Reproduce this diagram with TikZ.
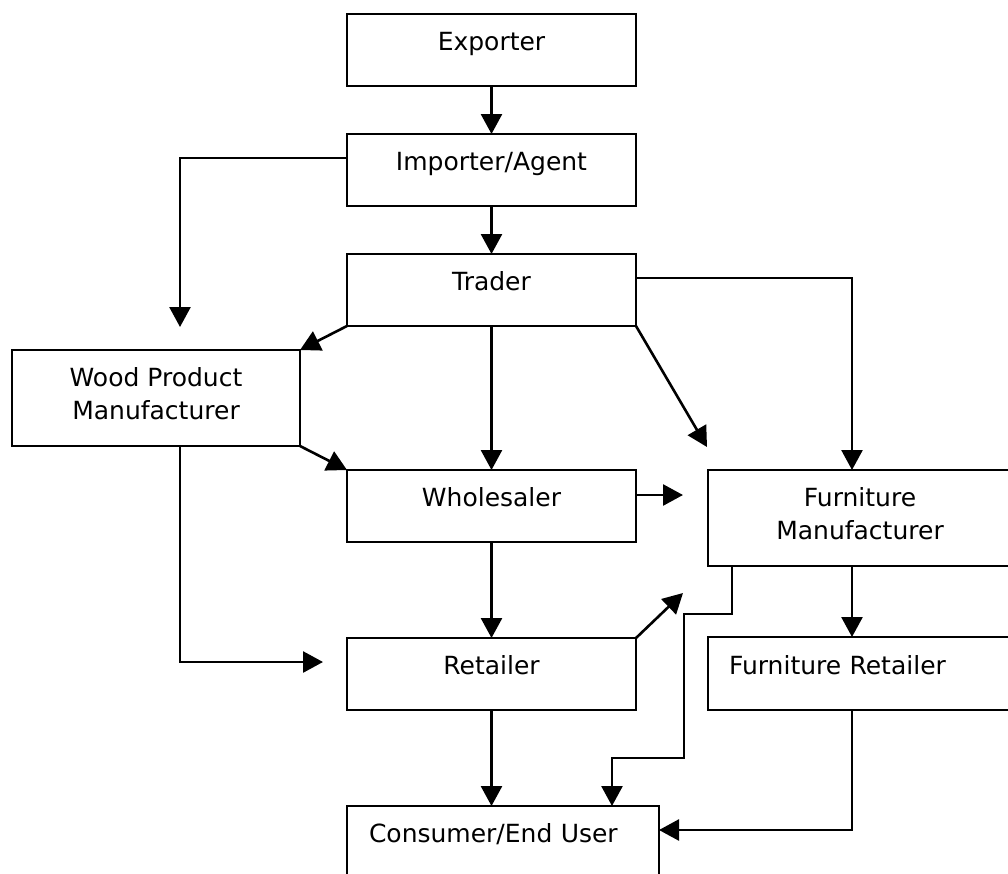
\documentclass[tikz,border=0pt]{standalone}
\usepackage{fontspec}
\setmainfont{DejaVu Sans}
\usepackage{tikz}
\usetikzlibrary{arrows.meta,positioning,calc}

\begin{document}
\begin{tikzpicture}[
  x=1pt, y=-1pt,
  frame/.style={draw, line width=2.6pt, outer sep=0pt, inner sep=0pt, minimum width=289pt, align=center, font=\fontsize{25}{33}\selectfont},
  box/.style={frame, minimum height=72pt, text height=18pt, text depth=17pt},
  tallbox/.style={frame, minimum height=96pt, text depth=10pt},
  arrow/.style={-{Triangle[length=20pt, width=21pt]}, line width=2.6pt}
]
  \useasboundingbox (0,0) rectangle (1008,873);

  \node[box] (exporter) at (491.5,50) {Exporter};
  \node[box, below=48pt of exporter] (importer) {Importer/Agent};
  \node[box, below=48pt of importer] (trader) {Trader};
  \node[box, below=144pt of trader] (wholesaler) {Wholesaler};
  \node[box, below=96pt of wholesaler] (retailer) {Retailer};
  \node[tallbox, minimum width=288pt] (wood) at (156,398) {Wood Product\\Manufacturer};
  \node[tallbox, minimum width=304pt] (furnman) at (860,518) {Furniture\\Manufacturer};
  \node[box, minimum height=73pt, anchor=north west, inner xsep=21pt, text width=283pt, align=left] (furnret) at (708,637) {Furniture Retailer};
  \node[box, anchor=north west, inner xsep=22pt, text width=268pt, align=left] (consumer) at (347,806) {Consumer/End User};

  \coordinate (wpin) at (180,327);
  \coordinate (fmtop) at (707,447);
  \coordinate (fmside) at (683,495);
  \coordinate (fmlow) at (683,593);
  \coordinate (rtin) at (323,662);

  \draw[arrow] (exporter) -- (importer);
  \draw[arrow] ([yshift=12pt]importer.west) -| (wpin);
  \draw[arrow] (importer) -- (trader);
  \draw[arrow] ([yshift=12pt]trader.east) -| ([xshift=144pt]furnman.north west);
  \draw[arrow] (trader.south west) -- (wood.north east);
  \draw[arrow] (trader) -- (wholesaler);
  \draw[arrow] (trader.south east) -- (fmtop);
  \draw[arrow] (wood.south east) -- (wholesaler.north west);
  \draw[arrow] ([xshift=24pt]wood.south) |- (rtin);
  \draw[arrow] ([yshift=11pt]wholesaler.east) -- (fmside);
  \draw[arrow] (wholesaler) -- (retailer);
  \draw[arrow] (retailer.north east) -- (fmlow);
  \draw[arrow] ([xshift=144pt]furnman.south west) -- ([xshift=144pt]furnret.north west);
  \draw[arrow] ([xshift=24pt]furnman.south west) -- ++(0,48) -| ++(-48,144) -| ([xshift=265pt]consumer.north west);
  \draw[arrow] (retailer) -- (retailer.south |- consumer.north);
  \draw[arrow] ([xshift=144pt]furnret.south west) |- ([yshift=12pt]consumer.east);
\end{tikzpicture}
\end{document}
